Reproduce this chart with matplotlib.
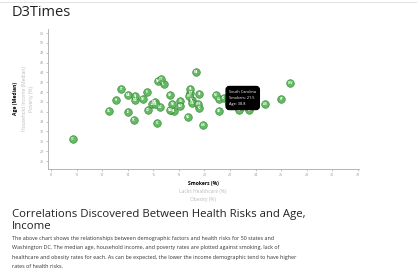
import numpy as np
import matplotlib
matplotlib.use("Agg")
import matplotlib.pyplot as plt

plt.rcParams['font.family'] = ['Open Sans', 'DejaVu Sans']

abbr = ["AL", "AK", "AZ", "AR", "CA", "CO", "CT", "DE", "DC", "FL", "GA", "HI", "ID",
        "IL", "IN", "IA", "KS", "KY", "LA", "ME", "MD", "MA", "MI", "MN", "MS", "MO",
        "MT", "NE", "NV", "NH", "NJ", "NM", "NY", "NC", "ND", "OH", "OK", "OR", "PA",
        "RI", "SC", "SD", "TN", "TX", "UT", "VT", "VA", "WA", "WV", "WI", "WY"]
smokes = [21.1, 19.9, 16.5, 24.7, 12.5, 15.6, 13.5, 19.6, 16.3, 16.8, 17.4, 13.1, 14.0,
          15.9, 21.9, 18.1, 17.6, 26.0, 23.5, 19.3, 14.6, 14.0, 20.9, 16.1, 22.7, 22.1,
          18.9, 17.3, 17.5, 16.4, 14.6, 18.1, 15.2, 19.0, 18.7, 22.5, 21.1, 17.3, 18.9,
          15.5, 21.5, 19.6, 21.9, 14.5, 9.7, 16.6, 19.0, 16.1, 26.7, 18.8, 19.5]
age = [38.6, 33.3, 36.9, 37.5, 36.2, 36.3, 40.6, 39.6, 33.8, 41.6, 36.4, 38.4, 35.9,
       37.5, 37.5, 38.1, 36.2, 38.6, 36.4, 44.1, 38.3, 39.4, 39.5, 37.9, 36.3, 38.4,
       39.8, 36.4, 37.6, 42.3, 39.3, 37.1, 38.5, 38.3, 35.0, 39.4, 36.2, 39.4, 40.7,
       40.0, 38.8, 36.7, 38.4, 34.3, 30.5, 42.6, 37.7, 37.5, 41.9, 39.2, 37.5]

x_ticks = list(range(8, 33, 2))
y_ticks = list(range(26, 53, 2))
tip_state = "SC"
tip_name = "South Carolina"

W, H = 417, 274
fig = plt.figure(figsize=(W / 100, H / 100), dpi=100)

def fx(px):
    return px / W

def fy(py):
    return 1 - py / H

# page header
fig.add_artist(plt.Line2D([0, 1], [fy(1.5), fy(1.5)], color='#dddddd', lw=0.6))
fig.text(fx(12), fy(12), "D3Times", fontsize=10.5, color='#222222', va='center', ha='left')

# chart
xmin, xmax = 0.8 * min(smokes), 1.2 * max(smokes)
ymin, ymax = 0.8 * min(age), 1.2 * max(age)
left, right, top, bottom = 47.9, 358.5, 28.5, 168.9
ax = fig.add_axes([fx(left), fy(bottom), (right - left) / W, (bottom - top) / H])
ax.set_xlim(xmin, xmax)
ax.set_ylim(ymin, ymax)
for s in ['top', 'right']:
    ax.spines[s].set_visible(False)
for s in ['left', 'bottom']:
    ax.spines[s].set_color('#aaaaaa')
    ax.spines[s].set_linewidth(0.6)
ax.set_xticks(x_ticks)
ax.set_yticks(y_ticks)
ax.tick_params(labelsize=2.6, colors='#999999', length=1.5, width=0.4, pad=1.5)

ax.scatter(smokes, age, s=30, color='#5cb85c', edgecolors='#3d8b3d', linewidths=0.5,
           alpha=0.95, zorder=3)
for a, xs, ys in zip(abbr, smokes, age):
    ax.text(xs, ys, a, fontsize=2.0, color='white', ha='center', va='center',
            fontweight='bold', zorder=4)

# tooltip
i = abbr.index(tip_state)
ax.annotate(f"{tip_name}\nSmokers: {smokes[i]}\nAge: {age[i]}",
            xy=(smokes[i], age[i]), xytext=(4, 0), textcoords='offset points',
            fontsize=2.8, color='white', ha='left', va='center', linespacing=1.8,
            bbox=dict(boxstyle='round,pad=0.8', fc='black', ec='black'), zorder=6)

# axis labels
cx = (left + right) / 2
fig.text(fx(cx), fy(183.5), "Smokers (%)", fontsize=3.6, fontweight='bold',
         color='black', ha='center', va='center')
fig.text(fx(cx), fy(191.5), "Lacks Healthcare (%)", fontsize=3.6, color='#bbbbbb',
         ha='center', va='center')
fig.text(fx(cx), fy(199), "Obesity (%)", fontsize=3.6, color='#bbbbbb',
         ha='center', va='center')
cy = (top + bottom) / 2
fig.text(fx(16), fy(cy), "Age (Median)", fontsize=3.6, fontweight='bold',
         color='black', ha='center', va='center', rotation=90)
fig.text(fx(24.5), fy(cy), "Household Income (Median)", fontsize=3.6, color='#bbbbbb',
         ha='center', va='center', rotation=90)
fig.text(fx(31.5), fy(cy), "Poverty (%)", fontsize=3.6, color='#bbbbbb',
         ha='center', va='center', rotation=90)

# article text
fig.text(fx(12), fy(215), "Correlations Discovered Between Health Risks and Age,",
         fontsize=8.2, color='#222222', ha='left', va='center')
fig.text(fx(12), fy(226.5), "Income", fontsize=8.2, color='#222222', ha='left', va='center')
para = ["The above chart shows the relationships between demographic factors and health risks for 50 states and",
        "Washington DC. The median age, household income, and poverty rates are plotted against smoking, lack of",
        "healthcare and obesity rates for each. As can be expected, the lower the income demographic tend to have higher",
        "rates of health risks."]
for k, line in enumerate(para):
    fig.text(fx(12), fy(238.5 + k * 9.4), line, fontsize=3.9, color='#333333',
             ha='left', va='center')

fig.savefig("out.png", dpi=100)
